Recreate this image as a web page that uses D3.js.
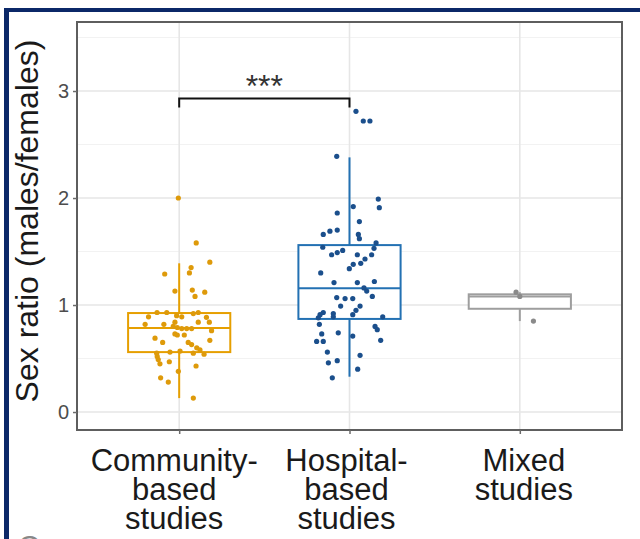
<!DOCTYPE html>
<html><head><meta charset="utf-8">
<script src="https://cdn.jsdelivr.net/npm/d3@7"></script>
<style>html,body{margin:0;padding:0;background:#fff;}svg{display:block;}</style>
</head><body>
<svg id="chart" width="640" height="539"></svg>
<script>
// ---------- data ----------
const categories = ["Community-based studies", "Hospital-based studies", "Mixed studies"];
const categoryLabelLines = [["Community-", "based", "studies"], ["Hospital-", "based", "studies"], ["Mixed", "studies"]];
const yTicks = [0, 1, 2, 3];
const yMinorTicks = [0.5, 1.5, 2.5, 3.5];
const yTitle = "Sex ratio (males/females)";
const significance = "***";

// box statistics per category
const boxQ1 = [0.56, 0.87, 0.965];
const boxMedian = [0.785, 1.156, 1.08];
const boxQ3 = [0.925, 1.56, 1.10];
const whiskerLow = [0.13, 0.33, 0.85];
const whiskerHigh = [1.39, 2.38, 1.12];

// jittered study points: value and horizontal jitter (category units)
const communityValues = [2.00,1.58,1.40,1.29,1.35,1.30,1.13,1.14,1.08,1.12,0.89,0.93,0.93,0.90,0.89,0.92,0.93,0.885,0.82,0.82,0.84,0.84,0.84,0.80,0.79,0.78,0.78,0.78,0.76,0.73,0.72,0.72,0.69,0.65,0.65,0.67,0.63,0.60,0.55,0.56,0.57,0.55,0.58,0.54,0.52,0.49,0.47,0.45,0.43,0.38,0.32,0.28,0.13];
const communityJitter = [-0.005,0.10,0.18,-0.085,0.07,0.06,-0.025,0.077,0.093,0.15,-0.18,-0.13,-0.073,-0.015,0.015,0.083,0.112,0.16,-0.20,-0.09,-0.025,0.112,0.177,-0.035,-0.011,0.015,0.044,0.073,0.19,-0.025,-0.011,0.03,-0.142,-0.097,0.053,0.18,0.073,0.103,-0.132,-0.054,0.005,0.083,0.122,0.146,-0.129,-0.123,-0.058,-0.113,0.099,-0.005,-0.109,-0.064,0.083];
const hospitalValues = [2.81,2.72,2.72,2.39,1.99,1.91,1.92,1.86,1.78,1.66,1.69,1.70,1.66,1.62,1.58,1.53,1.54,1.47,1.49,1.51,1.47,1.43,1.47,1.39,1.38,1.34,1.30,1.21,1.21,1.22,1.16,1.13,1.07,1.06,1.06,1.08,0.99,0.99,0.95,0.93,0.91,0.92,0.88,0.89,0.91,0.89,0.82,0.80,0.77,0.73,0.74,0.71,0.66,0.66,0.67,0.56,0.53,0.46,0.48,0.40,0.32];
const hospitalJitter = [0.038,0.081,0.12,-0.075,0.169,0.175,0.022,-0.072,0.058,-0.154,-0.115,-0.072,0.052,0.058,0.156,0.144,-0.157,-0.105,-0.072,-0.04,0.046,0.091,0.13,0.066,0.022,-0.001,-0.169,-0.091,0.046,0.146,0.085,0.101,-0.075,-0.026,0.019,0.134,-0.052,0.062,0.038,-0.154,-0.173,-0.095,-0.183,-0.095,0.019,0.195,-0.177,0.15,0.163,-0.163,-0.066,0.019,-0.193,-0.154,0.183,-0.13,0.062,-0.124,-0.072,0.048,-0.101];
const mixedValues = [1.12, 1.08, 0.85];
const mixedJitter = [-0.022, 0.0, 0.08];

const boxColors = ["#E69F00", "#2371B3", "#9E9E9E"];
const pointColors = ["#DE9A0A", "#1B4F8C", "#8A8A8A"];

// ---------- layout ----------
const svg = d3.select("#chart");
const panel = {left: 77, right: 622, top: 22, bottom: 430};
const FONT = "Liberation Sans, Arial, sans-serif";
const labelShift = [-5, -3, 4];

const x = d3.scalePoint().domain(categories).range([panel.left, panel.right]).padding(0.6);
const step = x.step();
const y = d3.scaleLinear().domain([-0.168, 3.645]).range([panel.bottom, panel.top]);

// navy frame
svg.append("rect").attr("x", 4).attr("y", 8).attr("width", 640).attr("height", 4).attr("fill", "#0B2868");
svg.append("rect").attr("x", 4).attr("y", 8).attr("width", 5).attr("height", 540).attr("fill", "#0B2868");

// gridlines
const g = svg.append("g");
g.selectAll(".minor").data(yMinorTicks).join("line")
  .attr("x1", panel.left).attr("x2", panel.right)
  .attr("y1", d => y(d)).attr("y2", d => y(d))
  .attr("stroke", "#F2F2F2").attr("stroke-width", 1);
g.selectAll(".major").data(yTicks).join("line")
  .attr("x1", panel.left).attr("x2", panel.right)
  .attr("y1", d => y(d)).attr("y2", d => y(d))
  .attr("stroke", "#E6E6E6").attr("stroke-width", 1.6);
g.selectAll(".vgrid").data(categories).join("line")
  .attr("x1", d => x(d)).attr("x2", d => x(d))
  .attr("y1", panel.top).attr("y2", panel.bottom)
  .attr("stroke", "#E6E6E6").attr("stroke-width", 1.6);

// boxes
const boxW = step * 0.6;
const boxes = svg.append("g");
categories.forEach((c, i) => {
  const cx = x(c), col = boxColors[i];
  const bg = boxes.append("g").attr("stroke", col).attr("stroke-width", 2).attr("fill", "none");
  bg.append("line").attr("x1", cx).attr("x2", cx).attr("y1", y(boxQ3[i])).attr("y2", y(whiskerHigh[i]));
  bg.append("line").attr("x1", cx).attr("x2", cx).attr("y1", y(boxQ1[i])).attr("y2", y(whiskerLow[i]));
  bg.append("rect").attr("x", cx - boxW / 2).attr("width", boxW)
    .attr("y", y(boxQ3[i])).attr("height", y(boxQ1[i]) - y(boxQ3[i])).attr("fill", "#fff");
  bg.append("line").attr("x1", cx - boxW / 2).attr("x2", cx + boxW / 2)
    .attr("y1", y(boxMedian[i])).attr("y2", y(boxMedian[i]));
});

// points
const groups = [
  {vals: communityValues, jit: communityJitter},
  {vals: hospitalValues, jit: hospitalJitter},
  {vals: mixedValues, jit: mixedJitter}
];
groups.forEach((grp, i) => {
  svg.append("g").selectAll("circle").data(grp.vals).join("circle")
    .attr("cx", (d, k) => x(categories[i]) + grp.jit[k] * step)
    .attr("cy", d => y(d))
    .attr("r", 2.6)
    .attr("fill", pointColors[i]);
});

// panel border
svg.append("rect").attr("x", panel.left).attr("y", panel.top)
  .attr("width", panel.right - panel.left).attr("height", panel.bottom - panel.top)
  .attr("fill", "none").attr("stroke", "#5E5E5E").attr("stroke-width", 2);

// y axis
const yAxis = svg.append("g").attr("transform", `translate(${panel.left},0)`)
  .call(d3.axisLeft(y).tickValues(yTicks).tickFormat(d3.format("d")).tickSize(4).tickPadding(4));
yAxis.select(".domain").remove();
yAxis.selectAll("line").attr("stroke", "#6B6B6B").attr("stroke-width", 1.5);
yAxis.selectAll("text").attr("fill", "#4D4D4D").style("font-family", FONT).style("font-size", "20px");

// x axis ticks
const xAxis = svg.append("g").attr("transform", `translate(0,${panel.bottom})`)
  .call(d3.axisBottom(x).tickSize(4).tickFormat(""));
xAxis.select(".domain").remove();
xAxis.selectAll("line").attr("stroke", "#6B6B6B").attr("stroke-width", 1.5);

// x labels (multiline)
const xl = svg.append("g").style("font-family", FONT).style("font-size", "31px").attr("fill", "#1A1A1A");
categories.forEach((c, i) => {
  const t = xl.append("text").attr("text-anchor", "middle").attr("transform", `translate(${x(c) + labelShift[i]},471)`);
  categoryLabelLines[i].forEach((ln, k) => {
    t.append("tspan").attr("x", 0).attr("y", k * 29).text(ln);
  });
});

// y title
svg.append("text")
  .attr("transform", `translate(38,221) rotate(-90)`)
  .attr("text-anchor", "middle")
  .style("font-family", FONT).style("font-size", "32px")
  .attr("fill", "#1A1A1A")
  .text(yTitle);

// significance bracket
const br = svg.append("g").attr("stroke", "#111").attr("stroke-width", 2).attr("fill", "none");
const bY = 2.93;
br.append("path").attr("d", `M${x(categories[0])},${y(bY) + 9}V${y(bY)}H${x(categories[1])}V${y(bY) + 9}`);
svg.append("text").attr("x", (x(categories[0]) + x(categories[1])) / 2).attr("y", y(bY) - 2)
  .attr("text-anchor", "middle").style("font-family", FONT)
  .style("font-size", "32px").attr("fill", "#333").text(significance);

// cut-off panel letter at the bottom edge
svg.append("text").attr("x", 18).attr("y", 556).style("font-family", FONT)
  .style("font-size", "30px").attr("fill", "#888").text("C");
</script>
</body></html>
